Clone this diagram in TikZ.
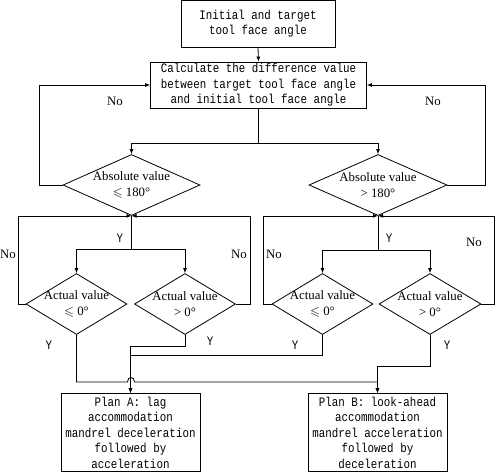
\documentclass[tikz,border=0pt]{standalone}
\usepackage{amssymb}
\usepackage{fontspec}
\setmainfont{Liberation Serif}
\setmonofont[FakeStretch=0.84]{Liberation Mono}
\usetikzlibrary{shapes.geometric,arrows.meta}
\begin{document}
\begin{tikzpicture}[x=1pt,y=-1pt,
  line width=0.8pt,
  arr/.style={-{Latex[length=5pt,width=4pt]}},
  box/.style={draw,rectangle,inner sep=0pt,align=center,
    font=\fontsize{12.9}{15.5}\selectfont\ttfamily},
  dia/.style={draw,diamond,inner sep=0pt,minimum width=#1,minimum height=61pt},
  dtext/.style={align=center,font=\fontsize{12.8}{16}\selectfont},
  lbl/.style={font=\fontsize{12.8}{14}\selectfont,inner sep=0pt},
  ylbl/.style={font=\fontsize{12.9}{13}\selectfont\ttfamily,inner sep=0pt}]
\useasboundingbox (0,0) rectangle (496,472);
% boxes
\node[box,minimum width=154pt,minimum height=46.5pt] (b1) at (258,23.7)
  {Initial and target\\tool face angle};
\node[box,minimum width=216pt,minimum height=46pt] (b2) at (258.5,85)
  {Calculate the difference value\\between target tool face angle\\and initial tool face angle};
\node[box,minimum width=139pt,minimum height=78pt] (pa) at (130.5,432.5)
  {Plan A: lag\\accommodation\\mandrel deceleration\\followed by\\acceleration};
\node[box,minimum width=139pt,minimum height=78pt] (pb) at (377.5,432.5)
  {Plan B: look-ahead\\accommodation\\mandrel acceleration\\followed by\\deceleration};
% diamonds
\node[dia=137pt] (d1) at (131.5,185) {};
\node[dtext] (t1) at (d1.center) {Absolute value\\$\leqslant$ 180°};
\node[dia=138pt] (d2) at (378,185) {};
\node[dtext] (t2) at (d2.center) {Absolute value\\> 180°};
\node[dia=101pt] (d11) at (76.5,304) {};
\node[dtext] (t11) at (d11.center) {Actual value\\$\leqslant$ 0°};
\node[dia=101pt] (d12) at (185,304) {};
\node[dtext] (t12) at (d12.center) {Actual value\\> 0°};
\node[dia=101pt] (d21) at (322.5,304) {};
\node[dtext] (t21) at (d21.center) {Actual value\\$\leqslant$ 0°};
\node[dia=102pt] (d22) at (430,304) {};
\node[dtext] (t22) at (d22.center) {Actual value\\> 0°};
% top connectors
\draw[arr] (b1.south) -- (b2.north);
\coordinate (j0) at (258.5,143);
\draw (b2.south) -- (j0);
\draw[arr] (j0) -| (d1.north);
\draw[arr] (j0) -| (d2.north);
\draw[arr] (d1.west) -- (39,185) |- (b2.west);
\draw[arr] (d2.east) -- (485,185) |- (b2.east);
% left group
\coordinate (j1) at (131.5,249);
\draw (d1.south) -- (j1);
\draw[arr] (j1) -| (d11.north);
\draw[arr] (j1) -| (d12.north);
\draw[arr] (d11.west) -- (18,304) |- (d1.south);
\draw[arr] (d12.east) -- (250,304) |- (d1.south);
% right group
\coordinate (j2) at (378,250);
\draw (d2.south) -- (j2);
\draw[arr] (j2) -| (d21.north);
\draw[arr] (j2) -| (d22.north);
\draw[arr] (d21.west) -- (263,304) |- (d2.south);
\draw[arr] (d22.east) -- (494.5,304) |- (d2.south);
% bottom connectors
\draw[arr] (d11.south) -- (76.5,382) -- (127.5,382)
  .. controls (127.5,376) and (134.5,376) .. (134.5,382) -- (377.5,382) -- (pb.north);
\draw[arr] (d12.south) -- (185,346) -| (pa.north);
\draw[arr] (d21.south) -- (322.5,355) -| (pa.north);
\draw[arr] (d22.south) -- (430,366) -| (pb.north);
% labels
\node[lbl] (n1) at (115,101) {No};
\node[lbl] (n2) at (433,101) {No};
\node[lbl] (n3) at (8,254) {No};
\node[lbl] (n4) at (239,254) {No};
\node[lbl] (n5) at (274,254) {No};
\node[lbl] (n6) at (474,242) {No};
\node[ylbl] (y1) at (120,238) {Y};
\node[ylbl] (y2) at (389,238) {Y};
\node[ylbl] (y3) at (49,345) {Y};
\node[ylbl] (y4) at (210,341) {Y};
\node[ylbl] (y5) at (295,345) {Y};
\node[ylbl] (y6) at (447,345) {Y};
\end{tikzpicture}
\end{document}
